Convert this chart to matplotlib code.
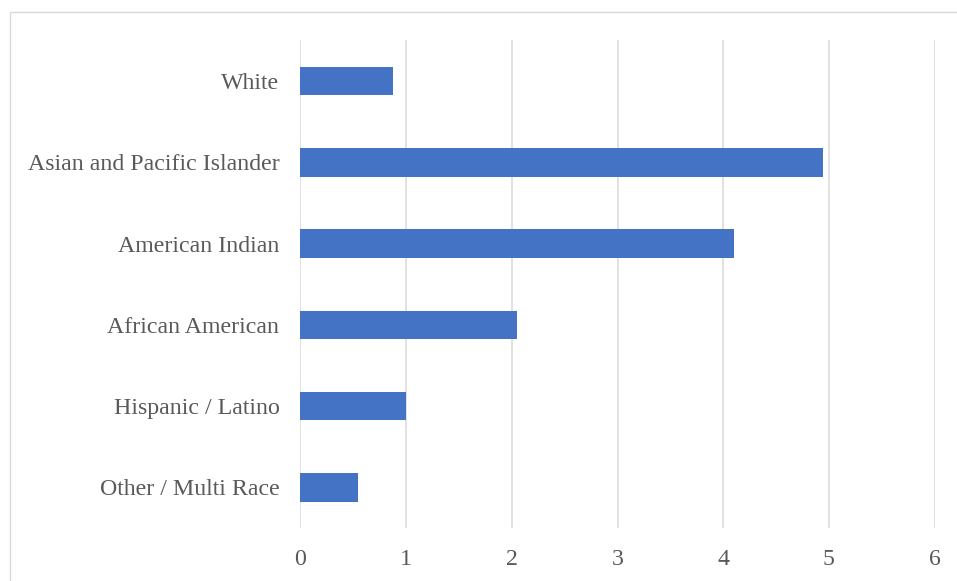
import matplotlib.pyplot as plt
from matplotlib.patches import Rectangle

# data
categories = ['White', 'Asian and Pacific Islander', 'American Indian',
              'African American', 'Hispanic / Latino', 'Other / Multi Race']
values = [0.88, 4.94, 4.10, 2.05, 1.00, 0.55]
xticks = [0, 1, 2, 3, 4, 5, 6]

plt.rcParams['font.family'] = ['Liberation Serif', 'DejaVu Serif']

fig = plt.figure(figsize=(9.57, 5.81), dpi=100)
ax = fig.add_axes([0.3138, 0.0912, 0.6629, 0.8391])

y = list(range(len(categories)))
ax.barh(y, values, height=0.35, color='#4472C4', zorder=3)

ax.set_ylim(len(categories) - 0.5, -0.5)
ax.set_xlim(0, 6)
ax.set_xticks(xticks)
ax.set_yticks(y)
ax.set_yticklabels(categories)

ax.tick_params(axis='both', length=0, labelsize=17.2, colors='#595959')
ax.tick_params(axis='x', pad=15)
ax.tick_params(axis='y', pad=15)

ax.grid(axis='x', color='#D9D9D9', linewidth=1.1, zorder=0)
for s in ax.spines.values():
    s.set_visible(False)

# outer chart border
fig.patches.append(Rectangle((10 / 957, -0.01), 1.0, 1 - 12 / 581 + 0.01,
                             transform=fig.transFigure, fill=False,
                             edgecolor='#D9D9D9', linewidth=1.0))

fig.savefig('out.png', dpi=100)
